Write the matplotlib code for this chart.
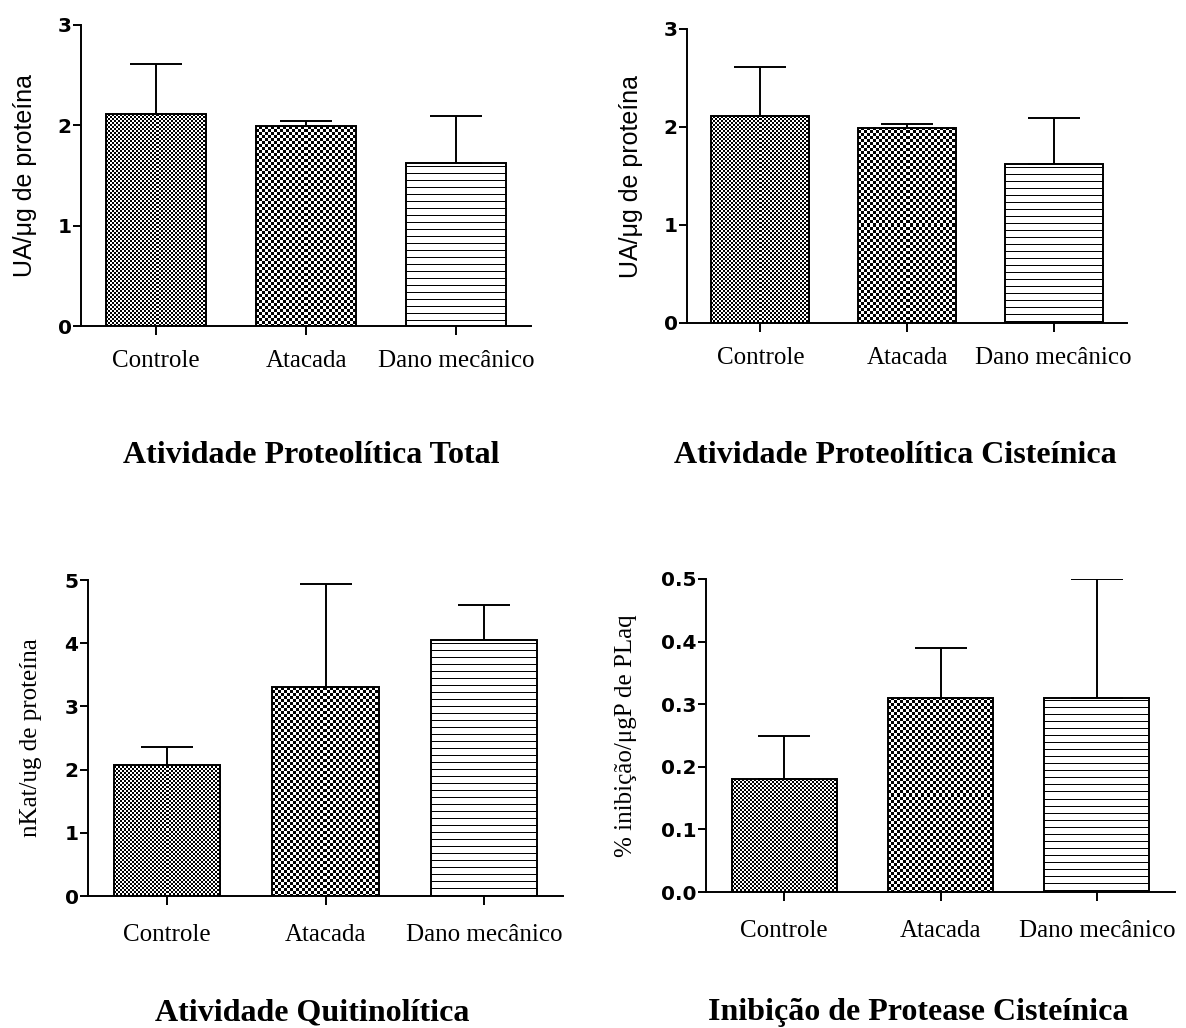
import numpy as np
import matplotlib
matplotlib.use('Agg')
import matplotlib.pyplot as plt

categories = ['Controle', 'Atacada', 'Dano mecânico']

# mean and upper error (SEM) per treatment
prot_total_mean = [2.11, 1.99, 1.62]
prot_total_err = [0.50, 0.05, 0.47]

prot_cist_mean = [2.11, 1.99, 1.62]
prot_cist_err = [0.50, 0.04, 0.47]

quitin_mean = [2.08, 3.30, 4.05]
quitin_err = [0.28, 1.63, 0.55]

inib_mean = [0.18, 0.31, 0.31]
inib_err = [0.07, 0.08, 0.19]

fill_patterns = ['fine_check', 'coarse_check', 'hlines']

W, H = 1186, 1028
LW = 1.4


def pattern_tile(kind, h, w):
    yy, xx = np.mgrid[0:h, 0:w]
    if kind == 'fine_check':
        return ((yy // 2 + xx // 2) % 2).astype(float)
    if kind == 'coarse_check':
        return ((yy // 3 + xx // 3) % 2).astype(float)
    return ((yy % 7) == 3).astype(float)


def add_axes_px(fig, left, top, right, bottom):
    return fig.add_axes([left / W, 1 - bottom / H, (right - left) / W, (bottom - top) / H])


def draw_panel(ax, means, errs, ymax, yticks, ylabel, label_family, label_x, xpad, tick_fmt):
    x = np.arange(len(categories))
    width = 0.67
    ax.set_xlim(-0.5, 2.5)
    ax.set_ylim(0, ymax)

    bars = ax.bar(x, means, width=width, facecolor='none', edgecolor='black',
                  linewidth=LW, zorder=3)

    # fill each bar with its bitmap pattern, sized in screen pixels
    for rect, kind in zip(bars, fill_patterns):
        x0, x1 = rect.get_x(), rect.get_x() + rect.get_width()
        top = rect.get_height()
        p0 = ax.transData.transform((x0, 0))
        p1 = ax.transData.transform((x1, top))
        w_px = max(int(round(p1[0] - p0[0])), 1)
        h_px = max(int(round(p1[1] - p0[1])), 1)
        ax.imshow(pattern_tile(kind, h_px, w_px), extent=(x0, x1, 0, top),
                  origin='upper', cmap='Greys', vmin=0, vmax=1,
                  interpolation='nearest', aspect='auto', zorder=2)

    ax.errorbar(x, means, yerr=[np.zeros(len(means)), errs], fmt='none',
                ecolor='black', elinewidth=LW, capsize=18.5, capthick=LW, zorder=4)

    ax.set_xlim(-0.5, 2.5)
    ax.set_ylim(0, ymax)

    for side in ('top', 'right'):
        ax.spines[side].set_visible(False)
    for side in ('left', 'bottom'):
        ax.spines[side].set_linewidth(LW)

    ax.set_yticks(yticks)
    ax.set_yticklabels([tick_fmt.format(v) for v in yticks],
                       fontfamily='DejaVu Sans', fontweight='bold', fontsize=14.5)
    ax.set_xticks(x)
    ax.set_xticklabels(categories, fontfamily='Liberation Serif', fontsize=18)
    ax.tick_params(axis='y', direction='out', length=5.8, width=LW, pad=1)
    ax.tick_params(axis='x', direction='out', length=6.5, width=LW, pad=xpad)

    ax.set_ylabel(ylabel, fontfamily=label_family, fontsize=18, va='center')
    ax.yaxis.set_label_coords(label_x, 0.5)


fig = plt.figure(figsize=(W / 100, H / 100), dpi=100)

ax1 = add_axes_px(fig, 81, 25, 531, 326)
draw_panel(ax1, prot_total_mean, prot_total_err, 3, [0, 1, 2, 3],
           'UA/μg de proteína', 'Liberation Sans', -0.124, 11, '{:d}')

ax2 = add_axes_px(fig, 687, 29, 1127, 323)
draw_panel(ax2, prot_cist_mean, prot_cist_err, 3, [0, 1, 2, 3],
           'UA/μg de proteína', 'Liberation Sans', -0.127, 11, '{:d}')

ax3 = add_axes_px(fig, 88, 580, 563, 896)
draw_panel(ax3, quitin_mean, quitin_err, 5, [0, 1, 2, 3, 4, 5],
           'nKat/ug de proteína', 'Liberation Serif', -0.119, 14, '{:d}')

ax4 = add_axes_px(fig, 706, 579, 1175, 892)
draw_panel(ax4, inib_mean, inib_err, 0.5, [0.0, 0.1, 0.2, 0.3, 0.4, 0.5],
           '% inibição/μgP de PLaq', 'Liberation Serif', -0.17, 14, '{:.1f}')

title_kw = dict(fontfamily='Liberation Serif', fontweight='bold', fontsize=23,
                ha='center', va='baseline')
fig.text(311 / W, 1 - 463 / H, 'Atividade Proteolítica Total', **title_kw)
fig.text(895 / W, 1 - 463 / H, 'Atividade Proteolítica Cisteínica', **title_kw)
fig.text(312 / W, 1 - 1020 / H, 'Atividade Quitinolítica', **title_kw)
fig.text(918 / W, 1 - 1020 / H, 'Inibição de Protease Cisteínica', **title_kw)

fig.savefig('out.png', dpi=100, facecolor='white')
